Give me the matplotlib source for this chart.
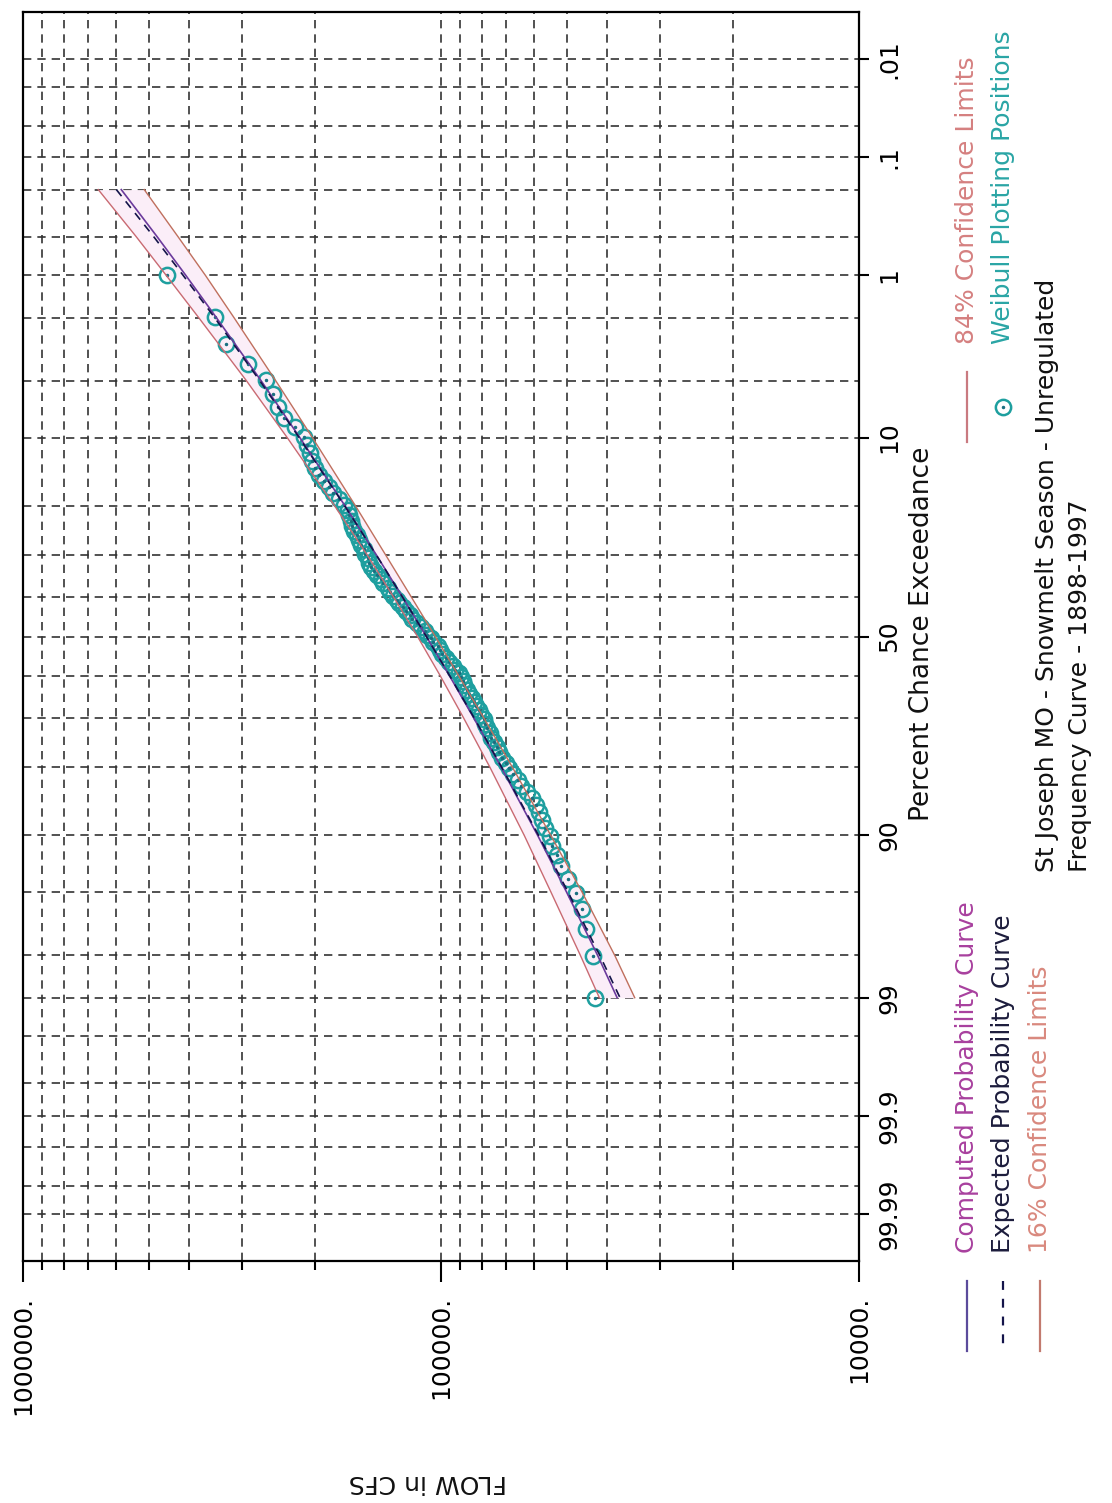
import matplotlib
matplotlib.use("Agg")
import numpy as np
import matplotlib.pyplot as plt
from matplotlib.lines import Line2D
from statistics import NormalDist

W, H = 1112, 1503

# frequency curves, % chance exceedance vs flow (cfs)
curve_pct = [0.2, 0.5, 1, 2, 5, 10, 20, 30, 40, 50, 60, 70, 80, 90, 95, 98, 99]
computed_cfs = [582000, 478000, 408000, 344700, 269000, 217700, 169700, 142700, 123600,
                108400, 95400, 83500, 71800, 58700, 50100, 42200, 37900]
expected_cfs = [598000, 487000, 414000, 348000, 271000, 218500, 170000, 142800, 123600,
                108400, 95300, 83300, 71600, 58400, 49700, 41700, 37300]
conf84_cfs = [660600, 536300, 454500, 379900, 291600, 233400, 179700, 150100, 129800,
              113800, 100400, 88300, 76400, 63200, 54600, 46400, 41800]
conf16_cfs = [512800, 426000, 366200, 312800, 248200, 203100, 160200, 135600, 117700,
              103200, 90700, 79000, 67500, 54600, 46000, 38400, 34400]

# ranked annual peaks 1898-1997
peak_cfs = [453000, 348000, 326000, 290000, 262000, 252000, 246000, 238000, 224000, 213000,
            209000, 206000, 203700, 200400, 195500, 191000, 184900, 181000, 175500, 170300,
            167100, 165600, 164200, 162900, 161600, 159000, 157200, 155300, 153000, 152000,
            149700, 148800, 146700, 144600, 142500, 139200, 137300, 134200, 132300, 130500,
            127500, 125800, 123000, 121300, 118600, 117100, 114400, 111900, 109400, 108000,
            105500, 104300, 101900, 100600, 99300, 97100, 95800, 93700, 92400, 90800,
            89700, 88500, 87900, 86700, 85600, 84500, 83400, 82300, 81100, 80100,
            78900, 78300, 77700, 76500, 75800, 74700, 73600, 72500, 71300, 69800,
            68600, 67100, 65600, 64200, 62400, 60500, 59300, 58400, 57400, 56400,
            55000, 54200, 52900, 51600, 49800, 47600, 46000, 45000, 43400, 42700]

prob_ticks = [0.01, 0.1, 1, 10, 50, 90, 99, 99.9, 99.99]
prob_tick_labels = [".01", ".1", "1", "10", "50", "90", "99", "99.9", "99.99"]
prob_grid = [0.01, 0.02, 0.05, 0.1, 0.2, 0.5, 1, 2, 5, 10, 20, 30, 40, 50, 60, 70, 80,
             90, 95, 98, 99, 99.5, 99.8, 99.9, 99.95, 99.98, 99.99]
flow_ticks = [1e6, 1e5, 1e4]
flow_tick_labels = ["1000000.", "100000.", "10000."]

nd = NormalDist()
def zq(pct):
    return np.array([nd.inv_cdf(p / 100.0) for p in np.atleast_1d(pct)])

def fx(px):
    return px / W

def fy(py):
    return 1 - py / H

fig = plt.figure(figsize=(W / 100, H / 100), dpi=100)
ax = fig.add_axes([fx(23), fy(1261), 836 / W, 1249 / H])
ax.set_xscale("log")
ax.set_xlim(1e6, 1e4)
ax.set_ylim(4.022, -4.022)

# ticks / grid
flow_minor = [m * 10 ** e for e in (4, 5) for m in range(2, 10)]
ax.set_xticks(flow_ticks, flow_tick_labels)
ax.set_xticks(flow_minor, minor=True)
ax.xaxis.set_minor_formatter(plt.NullFormatter())
ax.yaxis.tick_right()
ax.set_yticks(zq(prob_ticks), prob_tick_labels)
ax.set_yticks(zq(prob_grid), minor=True)
ax.yaxis.set_minor_formatter(plt.NullFormatter())

ax.tick_params(axis="x", which="major", length=15, width=1.5, pad=10, labelsize=18,
               labelrotation=90, direction="out")
ax.tick_params(axis="x", which="minor", length=6.5, width=1.5, direction="out")
ax.tick_params(axis="y", which="major", length=7, width=1.5, pad=6, labelsize=18,
               labelrotation=90, right=True, left=False, labelright=True, labelleft=False)
ax.tick_params(axis="y", which="minor", length=0)
for lbl in ax.get_yticklabels():
    lbl.set_va("center")

ax.grid(True, which="both", color="#333333", linestyle=(0, (5, 3.6)), linewidth=1.2)
ax.set_axisbelow(True)
for s in ax.spines.values():
    s.set_linewidth(1.6)
    s.set_color("black")

# curves
zc = zq(curve_pct)
ax.fill_betweenx(zc, conf16_cfs, conf84_cfs, color="#fbeef8", lw=0, zorder=1)

zp = zq([100.0 * (i + 1) / (len(peak_cfs) + 1) for i in range(len(peak_cfs))])
ax.plot(peak_cfs, zp, "o", mfc="none", mec="#1e9f9f", mew=1.8, ms=11, zorder=3)
ax.plot(peak_cfs, zp, ".", color="#1a6f80", ms=3, zorder=3)

ax.plot(conf84_cfs, zc, color="#c96a72", lw=1.0, zorder=4)
ax.plot(conf16_cfs, zc, color="#c0705e", lw=1.0, zorder=4)
ax.plot(computed_cfs, zc, color="#6b3a9c", lw=1.2, zorder=5)
ax.plot(expected_cfs, zc, color="#14144a", lw=1.2, linestyle=(0, (5, 4)), zorder=5)

# axis titles
fig.text(fx(922), fy(634), "Percent Chance Exceedance", rotation=90, ha="center",
         va="center", fontsize=19, color="#111111")
fig.text(fx(428), fy(1482), "FLOW in CFS", rotation=180, ha="center", va="center",
         fontsize=18, color="#111111")

# legend
def leg_line(x, y1, y2, **kw):
    fig.add_artist(Line2D([fx(x), fx(x)], [fy(y1), fy(y2)], transform=fig.transFigure, **kw))

def leg_text(x, y, s, color):
    fig.text(fx(x), fy(y), s, rotation=90, ha="center", va="bottom", fontsize=18, color=color)

leg_line(967, 1281, 1351, color="#5b4b9b", lw=1.6)
leg_text(967, 1253, "Computed Probability Curve", "#a8409e")
leg_line(1003, 1281, 1351, color="#14144a", lw=1.6, linestyle=(0, (4, 4)))
leg_text(1003, 1253, "Expected Probability Curve", "#1c1c3c")
leg_line(1040, 1281, 1351, color="#c27a6e", lw=1.6)
leg_text(1040, 1253, "16% Confidence Limits", "#d9897e")

leg_line(967, 372, 442, color="#c97a80", lw=1.6)
leg_text(967, 344, "84% Confidence Limits", "#d58080")
fig.add_artist(Line2D([fx(1003)], [fy(407)], transform=fig.transFigure, marker="o",
                      mfc="none", mec="#1e9f9f", mew=1.8, ms=11))
fig.add_artist(Line2D([fx(1003)], [fy(407)], transform=fig.transFigure, marker=".",
                      color="#1a6f80", ms=3))
leg_text(1003, 344, "Weibull Plotting Positions", "#2aa5a5")

# title
leg_text(1047, 872, "St Joseph MO - Snowmelt Season - Unregulated", "#111111")
leg_text(1080, 872, "Frequency Curve - 1898-1997", "#111111")

fig.savefig("out.png", dpi=100, facecolor="white")
